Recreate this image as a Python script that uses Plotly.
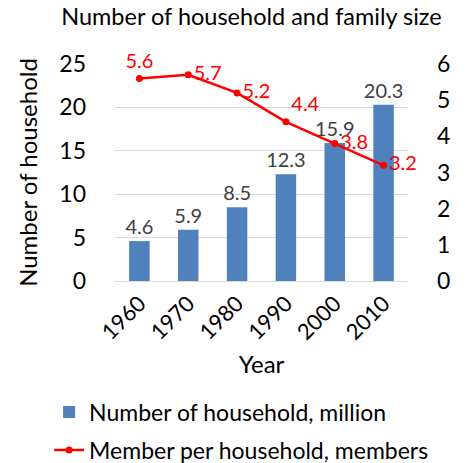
import plotly.graph_objects as go

years = ["1960", "1970", "1980", "1990", "2000", "2010"]
households = [4.6, 5.9, 8.5, 12.3, 15.9, 20.3]
members = [5.6, 5.7, 5.2, 4.4, 3.8, 3.2]
member_text_pos = ["top center", "middle right", "middle right", "top right", "middle right", "middle right"]

FONT = "Lato"

fig = go.Figure()
fig.add_trace(go.Bar(
    x=years, y=households, name="Number of household, million",
    marker=dict(color="#4F81BD", line=dict(width=0)),
    text=[f"{v:.1f}" for v in households], textposition="outside",
    constraintext="none",
    textfont=dict(color="#404040", size=20, family=FONT),
    cliponaxis=False, yaxis="y", legendgroup="a",
))
fig.add_trace(go.Scatter(
    x=years, y=members, name="Member per household, members",
    mode="lines+markers+text",
    line=dict(color="#FF0000", width=2.5),
    marker=dict(color="#FF0000", size=7),
    text=[f"{v:.1f}" for v in members], textposition=member_text_pos,
    textfont=dict(color="#FF0000", size=20, family=FONT),
    cliponaxis=False, yaxis="y2", legendgroup="b",
))

fig.update_layout(
    width=470, height=463,
    margin=dict(l=115, r=62, t=64, b=182, autoexpand=False),
    paper_bgcolor="white", plot_bgcolor="white",
    font=dict(family=FONT, color="black", size=24),
    title=dict(text="Number of household and family size", x=0.535, xanchor="center",
               y=0.963, yanchor="middle", font=dict(size=23.5, family=FONT, color="black")),
    bargap=0.58,
    showlegend=True,
    legend=dict(x=-0.225, xanchor="left", y=-0.505, yanchor="top",
                orientation="v", font=dict(size=23, family=FONT),
                tracegroupgap=5, traceorder="grouped", itemwidth=30),
    xaxis=dict(tickangle=-45, showgrid=False, showline=True, linecolor="#D9D9D9",
               ticks="", tickfont=dict(size=22),
               title=dict(text="Year", font=dict(size=24), standoff=12)),
    yaxis=dict(range=[0, 25], dtick=5, showgrid=True, gridcolor="#D9D9D9",
               zeroline=False, ticks="", tickfont=dict(size=23), ticklabelstandoff=28,
               title=dict(text="Number of household", font=dict(size=24), standoff=14)),
    yaxis2=dict(range=[0, 6], dtick=1, overlaying="y", side="right", showgrid=False,
                zeroline=False, ticks="", tickfont=dict(size=23), ticklabelstandoff=28),
)

fig.write_html("out.html")
